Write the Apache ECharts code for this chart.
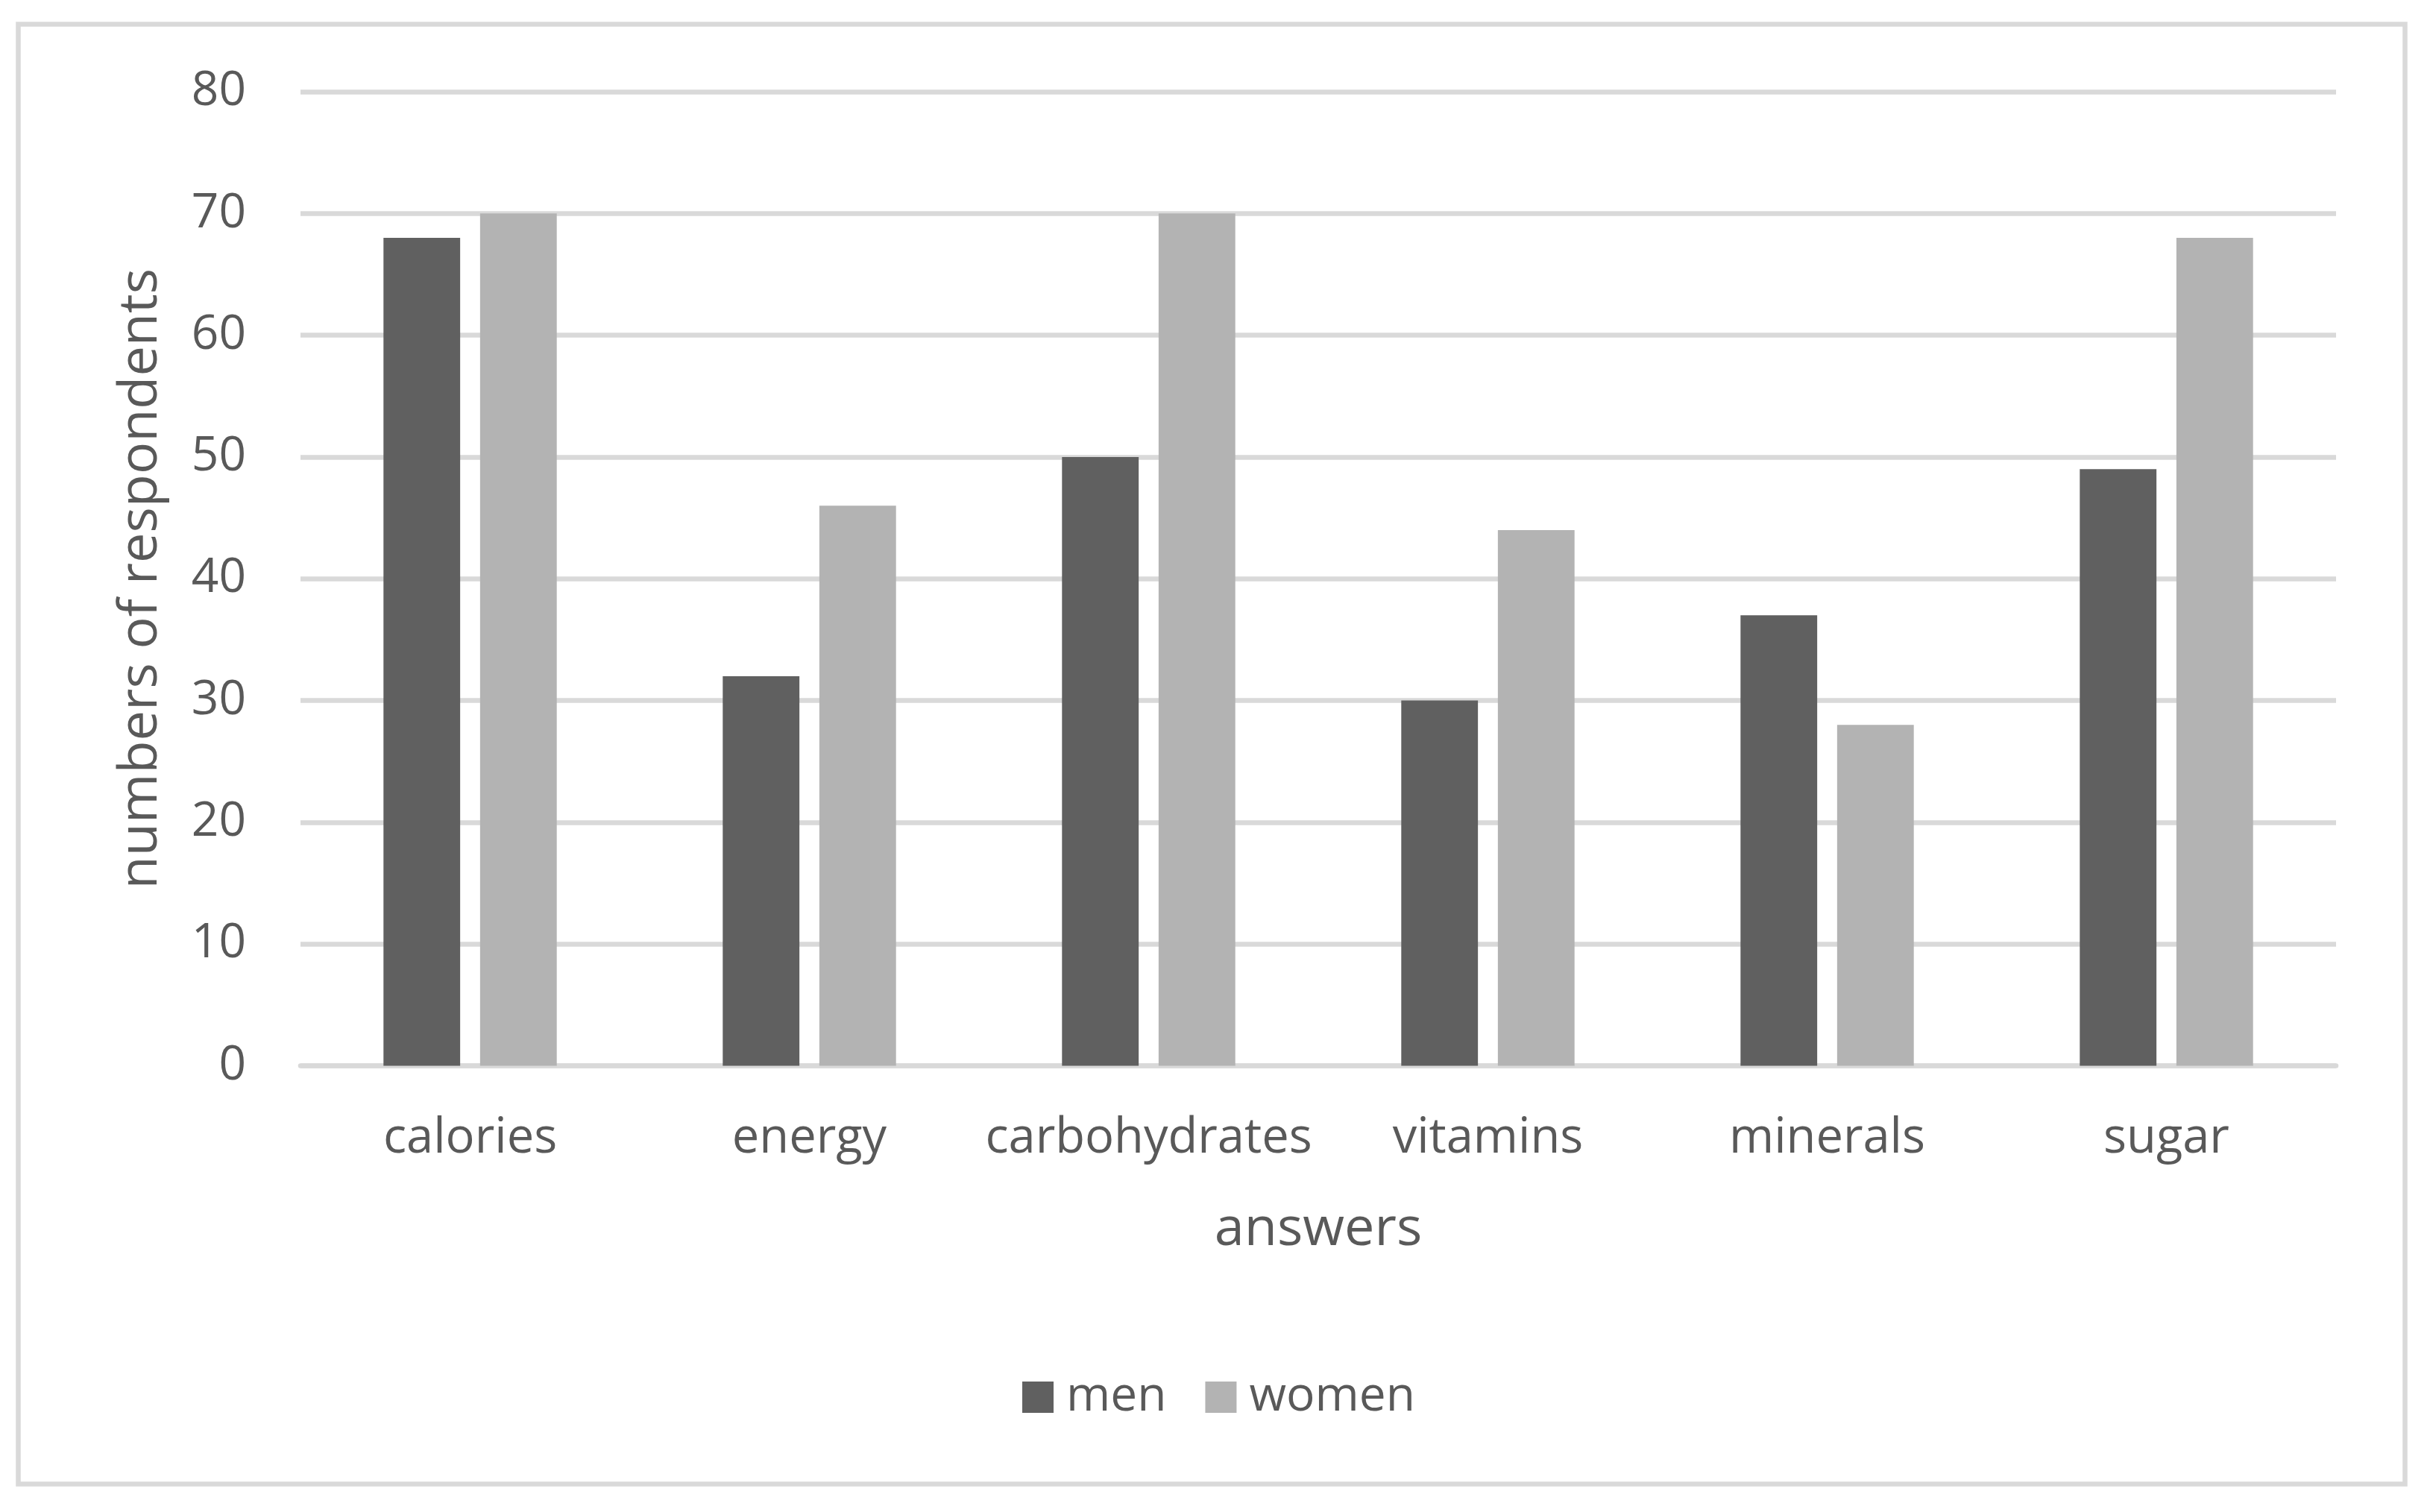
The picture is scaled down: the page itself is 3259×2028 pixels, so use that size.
<!DOCTYPE html>
<html>
<head>
<meta charset="utf-8">
<script src="https://cdn.jsdelivr.net/npm/echarts@6/dist/echarts.min.js"></script>
<style>
  html, body { margin: 0; padding: 0; background: #ffffff; }
  #chart { width: 3259px; height: 2028px; }
</style>
</head>
<body>
<div id="chart"></div>
<script>
const categories = ['calories', 'energy', 'carbohydrates', 'vitamins', 'minerals', 'sugar'];
const menValues = [68, 32, 50, 30, 37, 49];
const womenValues = [70, 46, 70, 44, 28, 68];
const seriesNames = ['men', 'women'];
const yAxisName = 'numbers of respondents';
const xAxisName = 'answers';

const FONT = 'Open Sans';
const TEXT = '#595959';

const chart = echarts.init(document.getElementById('chart'), null, { renderer: 'canvas' });
chart.setOption({
  backgroundColor: '#ffffff',
  animation: false,
  graphic: [{
    type: 'rect',
    shape: { x: 24.5, y: 32.5, width: 3201, height: 1958 },
    style: { fill: 'none', stroke: '#d9d9d9', lineWidth: 6.5 },
    silent: true,
    z: -1
  }],
  grid: { left: 403, right: 126, top: 123, bottom: 598.5, containLabel: false },
  legend: {
    data: seriesNames,
    top: 1836,
    left: 1366,
    itemWidth: 42,
    itemHeight: 42,
    itemGap: 52,
    icon: 'rect',
    textStyle: { fontFamily: FONT, fontSize: 64, lineHeight: 66, color: TEXT, padding: [0, 0, 0, 12] }
  },
  xAxis: {
    type: 'category',
    data: categories,
    name: xAxisName,
    nameLocation: 'middle',
    nameGap: 184,
    nameTextStyle: { fontFamily: FONT, fontSize: 72, color: TEXT },
    axisLine: { show: true, lineStyle: { color: '#d9d9d9', width: 6.5 } },
    axisTick: { show: false },
    axisLabel: { fontFamily: FONT, fontSize: 65, color: TEXT, margin: 65, interval: 0 }
  },
  yAxis: {
    type: 'value',
    min: 0,
    max: 80,
    interval: 10,
    name: yAxisName,
    nameLocation: 'middle',
    nameGap: 178,
    nameRotate: 90,
    nameTextStyle: { fontFamily: FONT, fontSize: 72, color: TEXT },
    axisLine: { show: false },
    axisTick: { show: false },
    axisLabel: { fontFamily: FONT, fontSize: 64, color: TEXT, margin: 73 },
    splitLine: { show: true, lineStyle: { color: '#d9d9d9', width: 6.5 } }
  },
  series: [
    {
      name: seriesNames[0],
      type: 'bar',
      data: menValues,
      barWidth: '22.6%',
      barGap: '26%',
      itemStyle: { color: '#606060' }
    },
    {
      name: seriesNames[1],
      type: 'bar',
      data: womenValues,
      barWidth: '22.6%',
      barGap: '26%',
      itemStyle: { color: '#b3b3b3' }
    }
  ]
});
</script>
</body>
</html>
